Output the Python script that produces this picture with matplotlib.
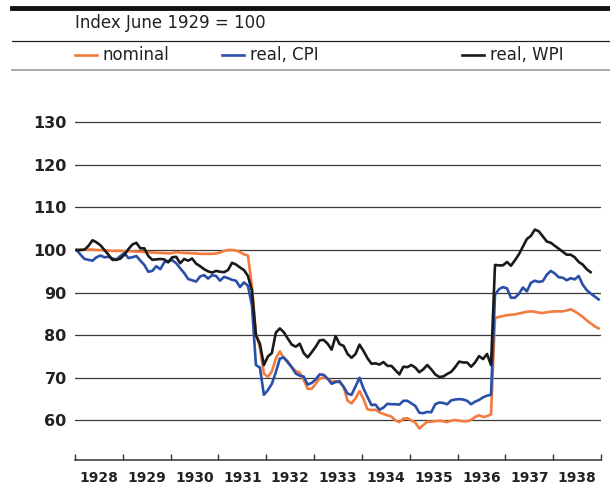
import numpy as np
import matplotlib
matplotlib.use("Agg")
import matplotlib.pyplot as plt
from matplotlib.lines import Line2D
from matplotlib.ticker import FixedLocator, NullFormatter, FixedFormatter

plt.rcParams['font.family'] = ['DejaVu Sans']

# ---- data (monthly, Jan 1928 onwards) ----
nominal = [
    100.0, 100.1, 100.1, 100.1, 100.1, 100.0, 100.0, 99.9, 99.9, 99.8, 99.8, 99.8,
    99.7, 99.7, 99.7, 99.6, 99.6, 99.5, 99.5, 99.4, 99.4, 99.3, 99.3, 99.2,
    99.3, 99.5, 99.4, 99.3, 99.3, 99.2, 99.2, 99.1, 99.1, 99.1, 99.1, 99.2,
    99.4, 99.8, 100.0, 100.0, 99.9, 99.5, 99.0, 98.7, 91.5, 80.5, 77.0, 71.0,
    70.2, 71.5, 74.5, 76.2, 74.6, 73.9, 72.4, 71.6, 71.2, 69.5, 67.4, 67.4,
    68.6, 69.8, 70.1, 69.8, 69.1, 69.2, 68.9, 67.9, 64.6, 64.0, 65.2, 66.9,
    65.0, 62.6, 62.4, 62.5, 61.9, 61.5, 61.2, 60.9, 60.0, 59.6, 60.4, 60.5,
    60.0, 59.5, 58.1, 58.9, 59.7, 59.7, 59.8, 59.9, 59.8, 59.6, 59.9, 60.1,
    59.9, 59.8, 59.8, 60.1, 60.8, 61.2, 60.8, 61.0, 61.4, 84.0, 84.3, 84.5,
    84.7, 84.8, 84.9, 85.1, 85.3, 85.5, 85.6, 85.5, 85.3, 85.2, 85.4, 85.5,
    85.6, 85.6, 85.6, 85.8, 86.1, 85.6, 85.0, 84.3, 83.5, 82.8, 82.1, 81.6,
]
real_cpi = [
    100.0, 98.9, 97.9, 97.7, 97.5, 98.3, 98.7, 98.3, 98.4, 98.0, 97.8, 98.6,
    99.3, 98.1, 98.3, 98.6, 97.5, 96.5, 94.9, 95.1, 96.2, 95.5, 97.1, 97.4,
    97.6, 96.9, 95.7, 94.6, 93.2, 92.9, 92.6, 93.8, 94.1, 93.3, 94.1, 93.9,
    92.8, 93.7, 93.4, 93.0, 92.8, 91.3, 92.4, 91.6, 87.0, 73.0, 72.4, 66.0,
    67.1, 68.6, 71.3, 74.5, 74.8, 73.6, 72.5, 71.0, 70.5, 70.3, 68.4, 68.8,
    69.6, 70.8, 70.7, 69.8, 68.6, 69.0, 69.2, 67.9, 66.3, 66.0, 68.0, 70.0,
    67.5, 65.5, 63.6, 63.7, 62.5, 63.0, 63.9, 63.8, 63.8, 63.7, 64.6, 64.6,
    64.0, 63.4, 61.8, 61.7, 62.0, 61.9, 63.8, 64.2, 64.1, 63.8, 64.7, 64.9,
    65.0, 64.9, 64.6, 63.8, 64.4, 64.8, 65.4, 65.8, 66.0, 89.5, 90.8, 91.3,
    91.0, 88.8, 88.8, 89.7, 91.2, 90.3, 92.3, 92.8, 92.5, 92.7, 94.2, 95.1,
    94.5, 93.6, 93.5, 92.9, 93.4, 93.1, 93.9, 91.9, 90.6, 89.8, 89.1, 88.4,
]
real_wpi = [
    100.0, 100.0, 100.1, 101.0, 102.3, 101.8, 101.1, 100.0, 98.9, 97.7, 97.7, 98.0,
    98.9, 100.2, 101.3, 101.7, 100.4, 100.4, 98.6, 97.7, 97.8, 97.9, 97.8, 97.1,
    98.3, 98.4, 96.9, 97.9, 97.5, 98.0, 96.8, 96.2, 95.5, 95.0, 94.7, 95.1,
    94.9, 94.8, 95.3, 97.0, 96.6, 95.9, 95.3, 93.9, 90.5, 80.0, 78.0, 73.0,
    75.0, 75.8, 80.6, 81.6, 80.7, 79.2, 77.8, 77.3, 78.0, 75.8, 74.8, 76.0,
    77.3, 78.8, 78.9, 78.0, 76.6, 79.8, 77.9, 77.5, 75.6, 74.7, 75.6, 77.8,
    76.3, 74.6, 73.3, 73.4, 73.1, 73.7, 72.8, 72.8, 71.8, 70.8, 72.6, 72.5,
    73.0, 72.4, 71.3, 72.0, 73.0, 72.0, 70.8, 70.2, 70.3, 70.9, 71.4, 72.5,
    73.8, 73.6, 73.6, 72.6, 73.6, 75.1, 74.4, 75.6, 73.0, 96.5, 96.4, 96.4,
    97.2, 96.3, 97.6, 99.0, 100.8, 102.6, 103.3, 104.8, 104.4, 103.2, 102.0, 101.7,
    101.0, 100.3, 99.6, 98.9, 98.9, 98.3, 97.2, 96.6, 95.5, 94.8,
]
years = list(range(1928, 1939))
year_labels = [str(y) for y in years]
y_ticks = [60, 70, 80, 90, 100, 110, 120, 130]
series_names = ["nominal", "real, CPI", "real, WPI"]
subtitle = "Index June 1929 = 100"

colors = ["#F37B3F", "#2A4FA8", "#1A1A1A"]

def month_pos(n):
    return 1928 + (np.arange(n) + 0.4) / 12.0

W, H = 610, 486
fig = plt.figure(figsize=(W / 100, H / 100), dpi=100)
ax = fig.add_axes([75 / W, 1 - 460 / H, (601 - 75) / W, (460 - 118) / H])
ax.set_xlim(1928, 1939)
ax.set_ylim(50.7, 131)

for yv in y_ticks:
    ax.axhline(yv, color="#3a3a3a", lw=0.9, zorder=1)

for vals, c, z in zip([nominal, real_cpi, real_wpi], colors, [3, 4, 5]):
    ax.plot(month_pos(len(vals)), vals, color=c, lw=1.9, zorder=z,
            solid_joinstyle="round")

for s in ["top", "left", "right"]:
    ax.spines[s].set_visible(False)
ax.spines["bottom"].set_color("#333333")
ax.spines["bottom"].set_linewidth(1.1)

ax.xaxis.set_major_locator(FixedLocator(list(range(1928, 1940))))
ax.xaxis.set_major_formatter(NullFormatter())
ax.xaxis.set_minor_locator(FixedLocator([y + 0.5 for y in years]))
ax.xaxis.set_minor_formatter(FixedFormatter(year_labels))
ax.tick_params(axis="x", which="major", direction="in", length=4, width=1.0,
               color="#333333")
ax.tick_params(axis="x", which="minor", length=0, pad=8, labelsize=10,
               labelcolor="#222222")
for lab in ax.xaxis.get_minorticklabels():
    lab.set_fontweight("bold")

ax.set_yticks(y_ticks)
ax.set_yticklabels([str(v) for v in y_ticks], fontsize=11.5, fontweight="bold",
                   color="#222222")
ax.tick_params(axis="y", length=0, pad=6)

# header
fig.add_artist(Line2D([12 / W, 1], [1 - 8 / H] * 2, lw=3.5, color="#111111"))
fig.text(75 / W, 1 - 23 / H, subtitle, fontsize=12, va="center", ha="left",
         color="#222222")
fig.add_artist(Line2D([12 / W, 1], [1 - 41 / H] * 2, lw=0.9, color="#222222"))
leg_x = [75, 222, 462]
for x0, name, c in zip(leg_x, series_names, colors):
    fig.add_artist(Line2D([x0 / W, (x0 + 22) / W], [1 - 55 / H] * 2, lw=1.9, color=c))
    fig.text((x0 + 28) / W, 1 - 55 / H, name, fontsize=12, va="center",
             ha="left", color="#222222")
fig.add_artist(Line2D([12 / W, 1], [1 - 70 / H] * 2, lw=1.2, color="#999999"))

fig.savefig("out.png", dpi=100)
